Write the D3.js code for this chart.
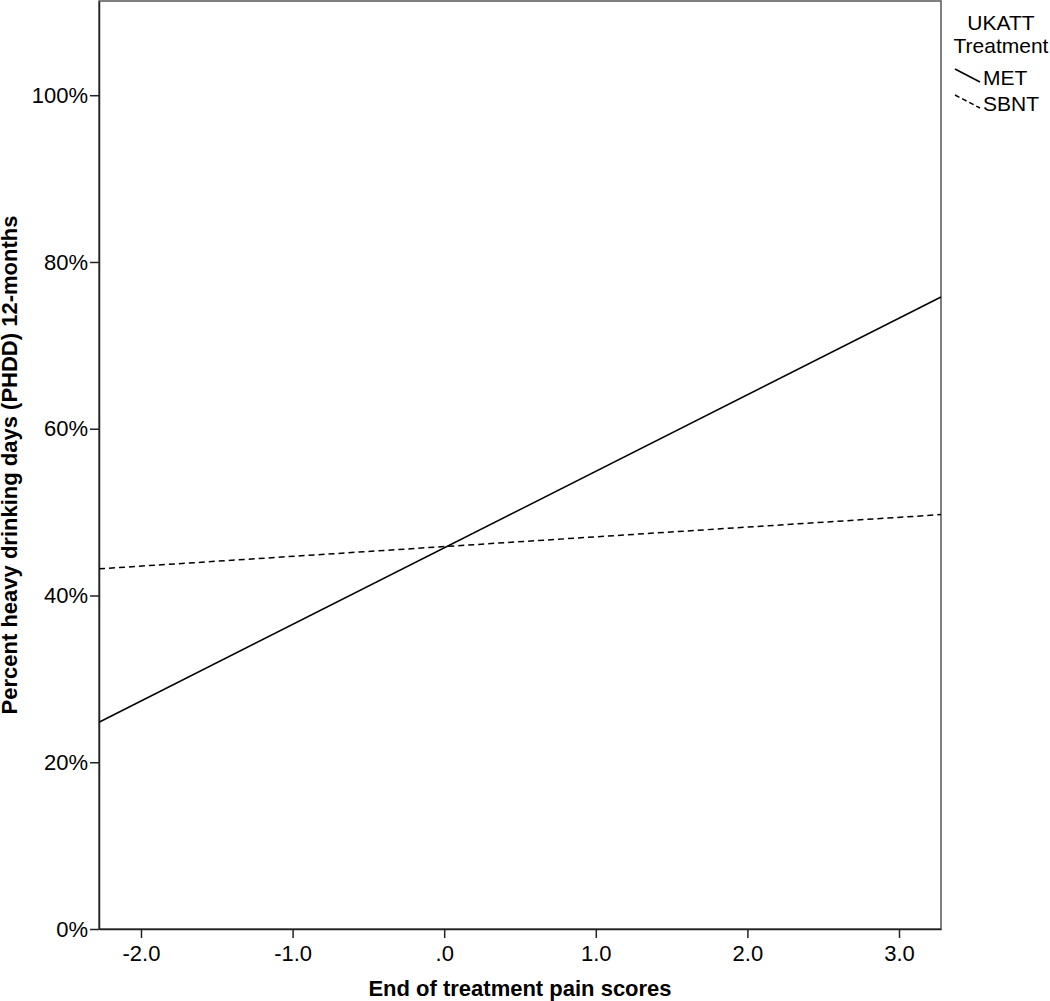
<!DOCTYPE html>
<html>
<head>
<meta charset="utf-8">
<script src="https://cdn.jsdelivr.net/npm/d3@7"></script>
<style>
  body { margin: 0; background: #fff; }
  svg text { font-family: "Liberation Sans", Arial, sans-serif; fill: #000; }
</style>
</head>
<body>
<script>
var w = 1050;
var h = 1001;

// data
var xEnds = [-2.277, 3.277];
var metValues = [24.8, 75.8];
var sbntValues = [43.2, 49.7];
var xTicks = [-2, -1, 0, 1, 2, 3];
var yTicks = [0, 20, 40, 60, 80, 100];
var legendTitle = ["UKATT", "Treatment"];
var legendNames = ["MET", "SBNT"];

var pLeft = 99, pRight = 941, pTop = 1, pBottom = 929;

var x = d3.scaleLinear().domain([-2.277, 3.277]).range([pLeft, pRight]);
var y = d3.scaleLinear().domain([0, 111.3]).range([pBottom, pTop]);

var svg = d3.select("body")
    .append("svg")
    .attr("width", w)
    .attr("height", h);

// frame
svg.append("rect")
    .attr("x", pLeft)
    .attr("y", pTop)
    .attr("width", pRight - pLeft)
    .attr("height", pBottom - pTop)
    .attr("fill", "none")
    .attr("stroke", "#555")
    .attr("stroke-width", 1.5);

function fmtX(d) {
    var s = Math.abs(d).toFixed(1);
    if (s.charAt(0) === "0") s = s.slice(1);
    return (d < 0 ? "-" : "") + s;
}

var xAxis = svg.append("g")
    .attr("transform", "translate(0," + pBottom + ")")
    .call(d3.axisBottom(x).tickValues(xTicks).tickSize(9).tickPadding(7).tickFormat(fmtX).tickSizeOuter(0));

var yAxis = svg.append("g")
    .attr("transform", "translate(" + pLeft + ",0)")
    .call(d3.axisLeft(y).tickValues(yTicks).tickSize(9).tickPadding(2).tickFormat(function (d) { return d + "%"; }).tickSizeOuter(0));

[xAxis, yAxis].forEach(function (g) {
    g.select(".domain").attr("stroke", "#222").attr("stroke-width", 1.5);
    g.selectAll(".tick line").attr("stroke", "#222").attr("stroke-width", 1.5);
    g.selectAll(".tick text")
        .attr("font-size", 22)
        .attr("font-family", "Liberation Sans, Arial, sans-serif")
        .attr("fill", "#000");
});

// axis titles
svg.append("text")
    .attr("x", (pLeft + pRight) / 2)
    .attr("y", 996)
    .attr("text-anchor", "middle")
    .attr("font-size", 22)
    .attr("font-weight", "bold")
    .text("End of treatment pain scores");

svg.append("text")
    .attr("transform", "translate(17," + (pTop + pBottom) / 2 + ") rotate(-90)")
    .attr("text-anchor", "middle")
    .attr("font-size", 22)
    .attr("font-weight", "bold")
    .text("Percent heavy drinking days (PHDD) 12-months");

// lines
var line = d3.line()
    .x(function (d) { return x(d[0]); })
    .y(function (d) { return y(d[1]); });

var series = [
    { name: legendNames[0], values: metValues, dash: null },
    { name: legendNames[1], values: sbntValues, dash: "6,4" }
];

svg.selectAll("path.series")
    .data(series)
    .enter()
    .append("path")
    .attr("class", "series")
    .attr("d", function (d) {
        return line(xEnds.map(function (xv, i) { return [xv, d.values[i]]; }));
    })
    .attr("fill", "none")
    .attr("stroke", "#000")
    .attr("stroke-width", 1.5)
    .attr("stroke-dasharray", function (d) { return d.dash; });

// legend
var lg = svg.append("g");
lg.selectAll("text.title")
    .data(legendTitle)
    .enter()
    .append("text")
    .attr("class", "title")
    .attr("x", 1001)
    .attr("y", function (d, i) { return 30 + i * 23; })
    .attr("text-anchor", "middle")
    .attr("font-size", 21)
    .text(function (d) { return d; });

var items = lg.selectAll("g.item")
    .data(series)
    .enter()
    .append("g")
    .attr("class", "item")
    .attr("transform", function (d, i) { return "translate(955," + (69 + i * 26) + ")"; });

items.append("line")
    .attr("x1", 0).attr("y1", 0)
    .attr("x2", 25).attr("y2", 13)
    .attr("stroke", "#000")
    .attr("stroke-width", 1.5)
    .attr("stroke-dasharray", function (d) { return d.dash ? "5,3" : null; });

items.append("text")
    .attr("x", 28)
    .attr("y", 16)
    .attr("font-size", 21)
    .text(function (d) { return d.name; });
</script>
</body>
</html>
